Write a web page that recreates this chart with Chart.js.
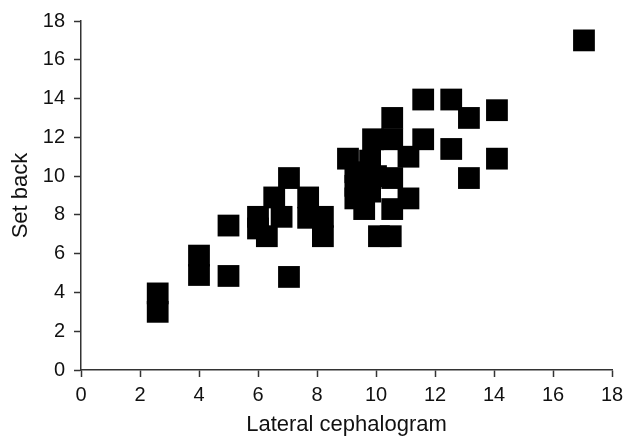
<!DOCTYPE html>
<html>
<head>
<meta charset="utf-8">
<script src="https://cdn.jsdelivr.net/npm/chart.js@4"></script>
<style>
  html, body { margin: 0; padding: 0; background: #fff; }
  canvas { display: block; }
</style>
</head>
<body>
<canvas id="myChart" width="639" height="438"></canvas>
<script>
// values
const lateralCeph = [2.6, 2.6, 4.0, 4.0, 5.0, 5.0,
  6.0, 6.0, 6.3, 6.55, 6.8, 7.05, 7.05, 7.7, 7.7, 8.2, 8.2,
  9.05, 9.8, 9.9, 10.55, 10.55, 11.1, 11.6,
  9.3, 9.3, 9.3, 10.0, 9.8, 10.55, 9.6, 10.55, 11.1, 10.1, 10.5,
  11.6, 12.55, 13.15, 14.1, 12.55, 14.1, 13.15, 17.05];
const setBack = [3.0, 3.95, 4.9, 5.9, 4.85, 7.45,
  7.9, 7.3, 6.9, 8.9, 7.9, 9.9, 4.8, 8.9, 7.85, 7.9, 6.9,
  10.9, 10.8, 11.9, 11.9, 13.0, 11.0, 11.9,
  10.2, 9.5, 8.85, 10.0, 9.2, 9.9, 8.3, 8.3, 8.85, 6.9, 6.9,
  13.95, 13.95, 13.0, 13.4, 11.4, 10.9, 9.9, 17.0];
const axisTicks = [0, 2, 4, 6, 8, 10, 12, 14, 16, 18];

const points = lateralCeph.map((x, i) => ({ x: x, y: setBack[i] }));
const axisColor = '#333';
const fontFamily = '"Liberation Sans", Arial, sans-serif';

function axis(title, titlePad) {
    return {
        type: 'linear',
        min: axisTicks[0],
        max: axisTicks[axisTicks.length - 1],
        afterBuildTicks: (scale) => {
            scale.ticks = axisTicks.map(v => ({ value: v }));
        },
        grid: {
            drawOnChartArea: false,
            drawTicks: true,
            tickLength: 7,
            tickColor: axisColor,
            tickWidth: 1.5
        },
        border: { display: true, color: axisColor, width: 1.5 },
        ticks: {
            color: '#111',
            font: { family: fontFamily, size: 20 },
            maxRotation: 0
        },
        title: {
            display: true,
            text: title,
            color: '#111',
            font: { family: fontFamily, size: 22 },
            padding: titlePad
        }
    };
}

const xAxis = axis('Lateral cephalogram', { top: 0, bottom: 0 });
xAxis.ticks.padding = 6;
xAxis.afterFit = (scale) => { scale.height = 68; };

const yAxis = axis('Set back', { top: 8, bottom: 0 });
yAxis.ticks.padding = 9;
yAxis.afterFit = (scale) => { scale.width = 81; };

var ctx = document.getElementById('myChart').getContext('2d');
var myChart = new Chart(ctx, {
    type: 'scatter',
    data: {
        datasets: [{
            label: 'Set back',
            data: points,
            pointStyle: 'rect',
            pointRadius: 15.4,
            pointHoverRadius: 15.4,
            backgroundColor: '#000',
            borderWidth: 0
        }]
    },
    options: {
        responsive: false,
        maintainAspectRatio: false,
        animation: false,
        layout: { padding: { left: 0, right: 27, top: 18, bottom: 0 } },
        scales: { x: xAxis, y: yAxis },
        plugins: {
            legend: { display: false },
            tooltip: { enabled: false }
        }
    }
});
</script>
</body>
</html>
